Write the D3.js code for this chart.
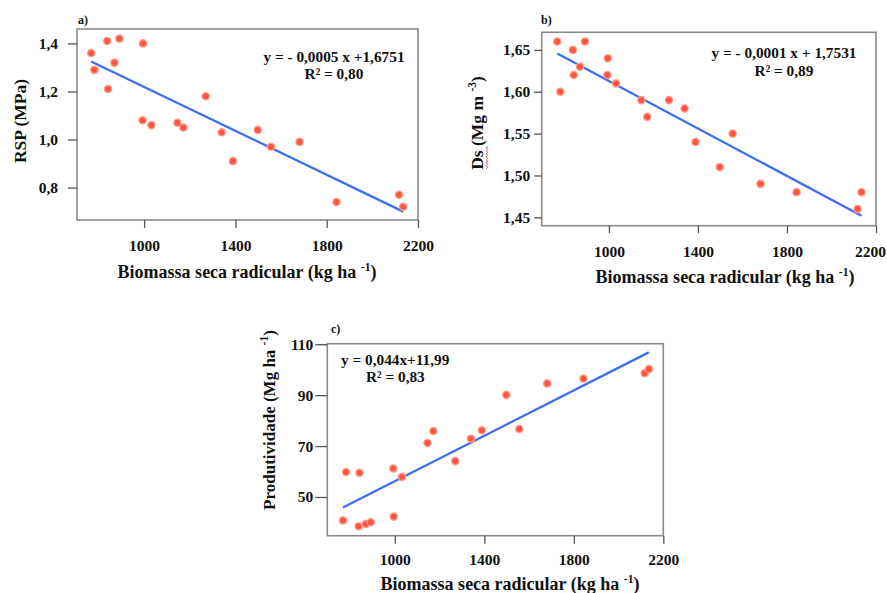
<!DOCTYPE html>
<html><head><meta charset="utf-8">
<script src="https://cdn.jsdelivr.net/npm/d3@7"></script>
<style>
html,body{margin:0;padding:0;background:#fff;}
svg{display:block;}
text{font-family:"Liberation Serif","Times New Roman",serif;font-weight:bold;fill:#111;}
</style></head>
<body>
<script>
// ---- data ----
const biomassa = [768, 782, 838, 842, 870, 892, 993, 995, 1032, 1146, 1172, 1270, 1340, 1389, 1498, 1556, 1681, 1843, 2117, 2135];
const rsp = [1.36, 1.29, 1.41, 1.21, 1.32, 1.42, 1.08, 1.40, 1.06, 1.07, 1.05, 1.18, 1.03, 0.91, 1.04, 0.97, 0.99, 0.74, 0.77, 0.72];
const ds = [1.66, 1.60, 1.65, 1.62, 1.63, 1.66, 1.62, 1.64, 1.61, 1.59, 1.57, 1.59, 1.58, 1.54, 1.51, 1.55, 1.49, 1.48, 1.46, 1.48];
const produtividade = [40.8, 59.8, 38.5, 59.5, 39.4, 40.1, 61.2, 42.3, 57.9, 71.2, 75.9, 64.1, 72.9, 76.2, 90.1, 76.7, 94.6, 96.5, 98.6, 100.2];
const xTicks = [1000, 1400, 1800, 2200];
const yTicksA = [0.8, 1.0, 1.2, 1.4];
const yTicksB = [1.45, 1.50, 1.55, 1.60, 1.65];
const yTicksC = [50, 70, 90, 110];
const fitX = [768, 2135];
const fitA = [1.325, 0.700];
const fitB = [1.6456, 1.452];
const fitC = [45.9, 106.8];
const eqA = ["y = - 0,0005 x +1,6751", "R² = 0,80"];
const eqB = ["y = - 0,0001 x + 1,7531", "R² = 0,89"];
const eqC = ["y = 0,044x+11,99", "R² = 0,83"];

const W = 887, H = 593;
const svg = d3.select("body").append("svg").attr("width", W).attr("height", H);

function fmtComma(dec){ return v => d3.format("." + dec + "f")(v).replace(".", ","); }

function panel(o){
  const x = d3.scaleLinear().domain(o.xDom).range([o.L, o.R]);
  const y = d3.scaleLinear().domain(o.yDom).range([o.B, o.T]);
  const g = svg.append("g");
  // box
  g.append("rect").attr("x", o.L).attr("y", o.T).attr("width", o.R - o.L).attr("height", o.B - o.T)
    .attr("fill", "none").attr("stroke", "#8a8a8a").attr("stroke-width", 1.6);
  // axes
  const ya = g.append("g").attr("transform", `translate(${o.L},0)`)
    .call(d3.axisLeft(y).tickValues(o.yTicks).tickFormat(o.yFmt).tickSize(o.yTick).tickPadding(o.yPad));
  ya.select(".domain").remove();
  ya.selectAll("line").attr("stroke", "#555").attr("stroke-width", 1.3);
  ya.selectAll("text").attr("font-size", o.tickFont).attr("fill", "#111")
    .style("font-family", "'Liberation Serif',serif").style("font-weight", "bold");
  const xa = g.append("g").attr("transform", `translate(0,${o.B})`)
    .call(d3.axisBottom(x).tickValues(xTicks).tickFormat(d3.format("d")).tickSize(o.xTick));
  xa.select(".domain").remove();
  xa.selectAll("line").attr("stroke", "#555").attr("stroke-width", 1.3);
  xa.selectAll("text").attr("font-size", o.tickFont).attr("fill", "#111").attr("dy", null).attr("y", o.xLabY)
    .attr("dx", d => (d === 2200 && o.lastShift) ? o.lastShift : null)
    .style("font-family", "'Liberation Serif',serif").style("font-weight", "bold");
  // fitted line
  const line = d3.line().x((d, i) => x(fitX[i])).y(d => y(d));
  g.append("path").datum(o.fit).attr("d", line).attr("fill", "none")
    .attr("stroke", "#3d6ef2").attr("stroke-width", 2.3);
  // points
  g.selectAll("circle.pt").data(biomassa).enter().append("circle")
    .attr("cx", d => x(d)).attr("cy", (d, i) => y(o.vals[i])).attr("r", 3.6)
    .attr("fill", "#ff5540").attr("stroke", "#ff9c8c").attr("stroke-width", 1.4);
  // panel letter
  g.append("text").attr("x", o.letterX).attr("y", o.letterY).attr("font-size", 12).text(o.letter);
  // equation
  g.append("text").attr("x", o.eqX).attr("y", o.eqY).attr("font-size", o.eqFont).attr("text-anchor", o.eqAnchor).text(o.eq[0]);
  g.append("text").attr("x", o.r2X).attr("y", o.eqY + o.eqGap).attr("font-size", o.eqFont).attr("text-anchor", o.eqAnchor).text(o.eq[1]);
  // x title
  const xt = g.append("text").attr("x", o.xTitleX).attr("y", o.xTitleY).attr("font-size", 18).attr("text-anchor", "middle");
  xt.append("tspan").text("Biomassa seca radicular (kg ha ");
  xt.append("tspan").attr("font-size", 11.5).attr("dy", -7).text("-1");
  xt.append("tspan").attr("dy", 7).text(")");
  // y title
  const yg = g.append("g").attr("transform", `translate(${o.yTitleX},${o.yTitleY}) rotate(-90)`);
  const yt = yg.append("text").attr("x", 0).attr("y", 0).attr("font-size", o.yTitleFont).attr("text-anchor", "middle");
  o.yTitle.forEach(p => {
    const t = yt.append("tspan").text(p.t);
    if (p.size) t.attr("font-size", p.size);
    if (p.dy) t.attr("dy", p.dy);
  });
  return {g, yg, yt};
}

panel({L:77, R:418, T:29, B:220, xDom:[706, 2200], yDom:[0.665, 1.46], yTicks:yTicksA, yFmt:fmtComma(1),
  yTick:9, yPad:10, xTick:8, xLabY:31, tickFont:15.5, fit:fitA, vals:rsp,
  letter:"a)", letterX:78, letterY:24, eq:eqA, eqX:334, r2X:334, eqY:62, eqGap:17, eqFont:15.3, eqAnchor:"middle",
  xTitleX:247, xTitleY:278, yTitleX:26, yTitleY:121, yTitleFont:17.5,
  yTitle:[{t:"RSP (MPa)"}]});

const pb = panel({L:541.7, R:876, T:32.3, B:225.7, xDom:[698, 2200], yDom:[1.44, 1.671], yTicks:yTicksB, yFmt:fmtComma(2),
  yTick:7.5, yPad:4, xTick:7.5, xLabY:31, tickFont:15.5, fit:fitB, vals:ds, lastShift:-6,
  letter:"b)", letterX:541, letterY:24, eq:eqB, eqX:784, r2X:784, eqY:58, eqGap:18, eqFont:15.3, eqAnchor:"middle",
  xTitleX:725, xTitleY:283, yTitleX:483, yTitleY:123, yTitleFont:17.5,
  yTitle:[{t:"Ds (Mg m "},{t:"-3", size:11.5, dy:-7},{t:")", dy:7}]});
// spell-check squiggle under "Ds"
(function(){
  const bb = pb.yt.node().getBBox();
  const x0 = bb.x + 1, x1 = x0 + 23, yy = 3.5;
  const pts = d3.range(x0, x1, 1.5).map((v, i) => [v, yy + (i % 2 ? 1.2 : -0.2)]);
  pb.yg.append("path").attr("d", d3.line()(pts)).attr("fill", "none").attr("stroke", "#e0302a").attr("stroke-width", 0.9);
})();

panel({L:327.3, R:663.3, T:343.7, B:535.7, xDom:[698, 2200], yDom:[34.8, 110.2], yTicks:yTicksC, yFmt:d3.format("d"),
  yTick:12, yPad:2, xTick:8, xLabY:29, tickFont:15.5, fit:fitC, vals:produtividade,
  letter:"c)", letterX:331, letterY:333, eq:eqC, eqX:341, r2X:366, eqY:365, eqGap:17, eqFont:15.3, eqAnchor:"start",
  xTitleX:510, xTitleY:590, yTitleX:275, yTitleY:420, yTitleFont:17,
  yTitle:[{t:"Produtividade (Mg ha "},{t:"-1", size:11.5, dy:-7},{t:")", dy:7}]});
</script>
</body></html>
